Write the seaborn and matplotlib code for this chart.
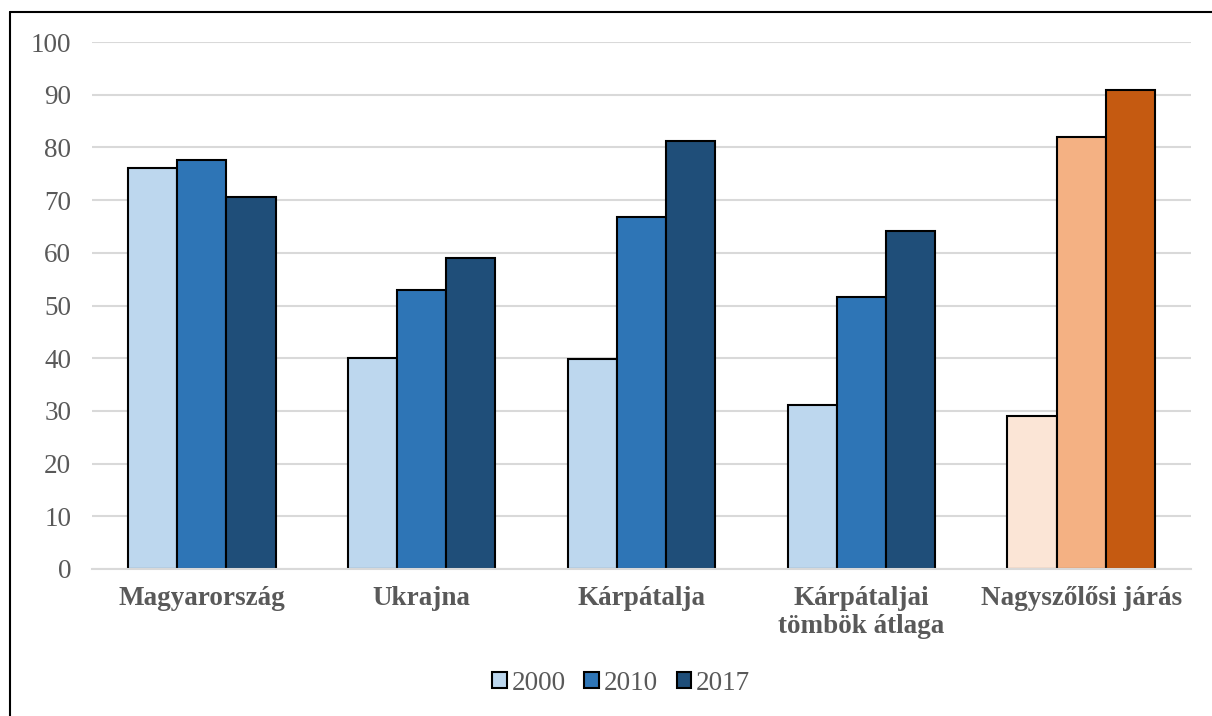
import matplotlib
matplotlib.use("Agg")
import matplotlib.pyplot as plt
import seaborn as sns
import pandas as pd
from matplotlib.lines import Line2D
from matplotlib.patches import Patch

categories = ["Magyarország", "Ukrajna", "Kárpátalja", "Kárpátaljai\ntömbök átlaga", "Nagyszőlősi járás"]
years = ["2000", "2010", "2017"]
v2000 = [76.0, 40.0, 39.8, 31.1, 29.0]
v2010 = [77.6, 52.9, 66.8, 51.6, 82.0]
v2017 = [70.6, 59.0, 81.2, 64.1, 90.9]
yticks = list(range(0, 101, 10))

blue_colors = ["#BDD7EE", "#2E75B6", "#1F4E79"]
orange_colors = ["#FBE5D6", "#F4B183", "#C55A11"]

rows = []
for yr, vals in zip(years, [v2000, v2010, v2017]):
    for c, v in zip(categories, vals):
        rows.append({"cat": c, "year": yr, "value": v})
df = pd.DataFrame(rows)

sns.set_theme(style="white")
plt.rcParams["font.family"] = ["Liberation Serif", "DejaVu Serif"]

fig = plt.figure(figsize=(12.12, 7.16), dpi=100)
ax = fig.add_axes([92/1212, 1-569/716, (1191-92)/1212, (569-42)/716])

sns.barplot(data=df, x="cat", y="value", hue="year", order=categories, hue_order=years,
            palette=blue_colors, width=0.67, edgecolor="black", linewidth=1.5,
            legend=False, ax=ax, saturation=1)

for hi, cont in enumerate(ax.containers):
    for ci, bar in enumerate(cont):
        if ci == len(categories) - 1:
            bar.set_facecolor(orange_colors[hi])

ax.set_ylim(0, 100)
ax.set_xlim(-0.5, len(categories) - 0.5)
ax.set_yticks(yticks)
ax.set_yticklabels([str(t) for t in yticks], fontsize=19.5, color="#595959")
ax.tick_params(axis="y", length=0, pad=15)
ax.tick_params(axis="x", length=0, pad=12)
for lab in ax.get_xticklabels():
    lab.set_fontsize(19.5)
    lab.set_fontweight("bold")
    lab.set_color("#595959")
    lab.set_linespacing(1.15)
ax.set_xlabel("")
ax.set_ylabel("")
ax.yaxis.grid(True, color="#D9D9D9", linewidth=1.5)
ax.set_axisbelow(True)
for s in ["top", "right", "left"]:
    ax.spines[s].set_visible(False)
ax.spines["bottom"].set_color("#D9D9D9")
ax.spines["bottom"].set_linewidth(1.5)

handles = [Patch(facecolor=c, edgecolor="black", linewidth=1.5) for c in blue_colors]
leg = fig.legend(handles, years, loc="center", bbox_to_anchor=(621/1212, 1-683/716), ncol=3,
                 frameon=False, fontsize=19.5, handlelength=0.55, handleheight=0.55,
                 handletextpad=0.15, columnspacing=0.7)
for t in leg.get_texts():
    t.set_color("#595959")

fig.add_artist(Line2D([10/1212, 10/1212], [0, 1-12/716], transform=fig.transFigure, color="black", linewidth=1.5))
fig.add_artist(Line2D([10/1212, 1], [1-12/716, 1-12/716], transform=fig.transFigure, color="black", linewidth=1.5))

fig.savefig("out.png", dpi=100)
